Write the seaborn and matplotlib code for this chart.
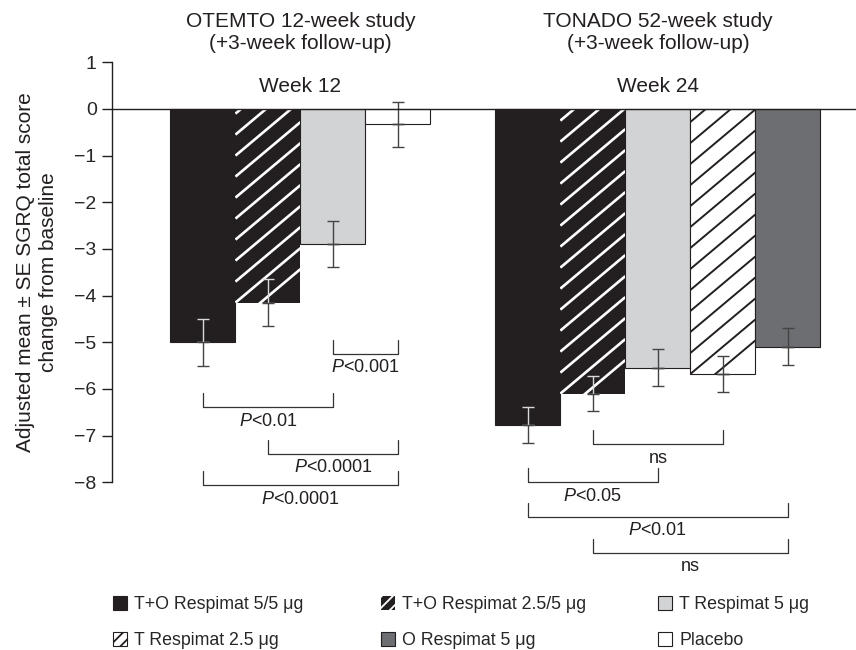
import matplotlib
matplotlib.use("Agg")
import matplotlib.pyplot as plt
import matplotlib.transforms as mtransforms
from matplotlib.collections import LineCollection
from matplotlib.patches import Patch
import numpy as np
import pandas as pd
import seaborn as sns

# treatment arms, colours and hatches
treatments = ["T+O Respimat 5/5 μg", "T+O Respimat 2.5/5 μg", "T Respimat 5 μg",
              "T Respimat 2.5 μg", "O Respimat 5 μg", "Placebo"]
face_colors = ["#231f20", "#231f20", "#d1d3d4", "#ffffff", "#6d6e71", "#ffffff"]
hatch_colors = [None, "white", None, "#231f20", None, None]

# OTEMTO 12-week study, week 12
otemto_arms = ["T+O Respimat 5/5 μg", "T+O Respimat 2.5/5 μg", "T Respimat 5 μg", "Placebo"]
otemto_mean = [-5.0, -4.15, -2.89, -0.33]
otemto_se = [0.5, 0.5, 0.5, 0.49]
otemto_pos = [0, 1, 2, 3]

# TONADO 52-week study, week 24
tonado_arms = ["T+O Respimat 5/5 μg", "T+O Respimat 2.5/5 μg", "T Respimat 5 μg",
               "T Respimat 2.5 μg", "O Respimat 5 μg"]
tonado_mean = [-6.77, -6.1, -5.54, -5.68, -5.09]
tonado_se = [0.39, 0.38, 0.4, 0.39, 0.39]
tonado_pos = [5, 6, 7, 8, 9]

# comparison brackets: (first arm, second arm, level, label)
otemto_brackets = [(2, 3, -5.25, r"$P$<0.001"), (0, 2, -6.39, r"$P$<0.01"),
                   (1, 3, -7.39, r"$P$<0.0001"), (0, 3, -8.06, r"$P$<0.0001")]
tonado_brackets = [(1, 3, -7.18, "ns"), (0, 2, -8.0, r"$P$<0.05"),
                   (0, 4, -8.74, r"$P$<0.01"), (1, 4, -9.51, "ns")]

sns.set_style("white")
plt.rcParams["font.family"] = ["Liberation Sans", "DejaVu Sans"]
plt.rcParams["mathtext.fontset"] = "custom"
plt.rcParams["mathtext.it"] = "Liberation Sans:italic"
plt.rcParams["mathtext.rm"] = "Liberation Sans"
plt.rcParams["hatch.linewidth"] = 1.3

ink = "#231f20"
W, H = 856, 650
fig = plt.figure(figsize=(W / 100, H / 100), dpi=100)
ax = fig.add_axes([112 / W, 1 - 622.3 / H, 744 / W, 560 / H])
ax.patch.set_alpha(0)

df = pd.DataFrame({
    "pos": otemto_pos + tonado_pos,
    "mean": otemto_mean + tonado_mean,
    "se": otemto_se + tonado_se,
    "arm": otemto_arms + tonado_arms,
})
palette = dict(zip(treatments, face_colors))
sns.barplot(data=df, x="pos", y="mean", hue="arm", palette=palette, native_scale=True,
            width=1, dodge=False, errorbar=None, legend=False, saturation=1,
            edgecolor=ink, linewidth=0.8, ax=ax)

ax.set_xlim(-1.4, 10.05)
ax.set_ylim(-11, 1)
ax.set_autoscale_on(False)

# diagonal hatching drawn per bar, clipped to the bar
arm_at = dict(zip(df["pos"], df["arm"]))
slope = np.tan(np.radians(40))
step = 21.0
for p in list(ax.patches):
    k = treatments.index(arm_at[int(round(p.get_x() + p.get_width() / 2))])
    if hatch_colors[k] is None:
        continue
    if face_colors[k] == "#231f20":
        p.set_linewidth(0)
    bb = p.get_window_extent()
    offs = np.arange(bb.height + step, -slope * bb.width - step, -step)
    segs = [[(bb.x0, bb.y1 - c), (bb.x1, bb.y1 - c + slope * bb.width)] for c in offs]
    lw = 1.9 if hatch_colors[k] == "white" else 1.4
    lc = LineCollection(segs, colors=hatch_colors[k], linewidths=lw,
                        transform=mtransforms.IdentityTransform(), zorder=p.get_zorder() + 0.1)
    ax.add_collection(lc, autolim=False)
    lc.set_clip_path(p)

# error bars: light inside dark bars, dark outside
for _, r in df.iterrows():
    k = treatments.index(r["arm"])
    inner = "#d9d9d9" if face_colors[k] == "#231f20" else "#444444"
    ax.errorbar([r["pos"]], [r["mean"]], yerr=[[0], [r["se"]]], fmt="none",
                ecolor=inner, elinewidth=1, capsize=4, capthick=1, zorder=4)
    ax.errorbar([r["pos"]], [r["mean"]], yerr=[[r["se"]], [0]], fmt="none",
                ecolor="#444444", elinewidth=1, capsize=4, capthick=1, zorder=4)

ax.axhline(0, color=ink, lw=1, zorder=5)

# brackets
for pos, brackets in [(otemto_pos, otemto_brackets), (tonado_pos, tonado_brackets)]:
    for i, j, lvl, lab in brackets:
        x0, x1 = pos[i], pos[j]
        ax.plot([x0, x0, x1, x1], [lvl + 0.3, lvl, lvl, lvl + 0.3], color="#333333", lw=0.9)
        ax.text((x0 + x1) / 2, lvl - 0.3, lab, ha="center", va="center", fontsize=13, color=ink)

ax.set_yticks(range(-8, 2))
ax.set_xticks([])
ax.set_xlabel("")
ax.set_ylabel("")
for s in ["top", "right", "bottom"]:
    ax.spines[s].set_visible(False)
ax.spines["left"].set_bounds(-8, 1)
ax.spines["left"].set_color(ink)
ax.spines["left"].set_linewidth(1)
ax.tick_params(axis="y", length=7, width=1, color=ink, labelsize=14, pad=4, left=True)

# group titles
tr = mtransforms.blended_transform_factory(ax.transData, fig.transFigure)
ax.text(np.mean(otemto_pos), 1 - 32.5 / H, "OTEMTO 12-week study\n(+3-week follow-up)",
        transform=tr, ha="center", va="center", fontsize=15, color=ink)
ax.text(np.mean(tonado_pos), 1 - 32.5 / H, "TONADO 52-week study\n(+3-week follow-up)",
        transform=tr, ha="center", va="center", fontsize=15, color=ink)
ax.text(np.mean(otemto_pos), 1 - 87 / H, "Week 12", transform=tr, ha="center", va="center",
        fontsize=15, color=ink)
ax.text(np.mean(tonado_pos), 1 - 87 / H, "Week 24", transform=tr, ha="center", va="center",
        fontsize=15, color=ink)

fig.text(37 / W, 1 - 272.5 / H, "Adjusted mean ± SE SGRQ total score\nchange from baseline",
         rotation=90, ha="center", va="center", fontsize=15, color=ink, linespacing=1.28)

# legend, three columns of two rows
def handle(k):
    if hatch_colors[k] == "white":
        return Patch(facecolor=face_colors[k], edgecolor="white", hatch="///", lw=0)
    if hatch_colors[k]:
        return Patch(facecolor=face_colors[k], edgecolor=ink, hatch="///", lw=0.8)
    return Patch(facecolor=face_colors[k], edgecolor=ink, lw=0.8)

columns = [(0, 3, 113), (1, 4, 381), (2, 5, 658)]
for a, b, xpx in columns:
    fig.legend([handle(a), handle(b)], [treatments[a], treatments[b]],
               loc="upper left", bbox_to_anchor=(xpx / W, 1 - 596 / H), frameon=False,
               fontsize=12.8, handlelength=0.8, handleheight=0.85, handletextpad=0.4,
               labelspacing=1.05, borderpad=0, borderaxespad=0)

fig.savefig("out.png", dpi=100)
